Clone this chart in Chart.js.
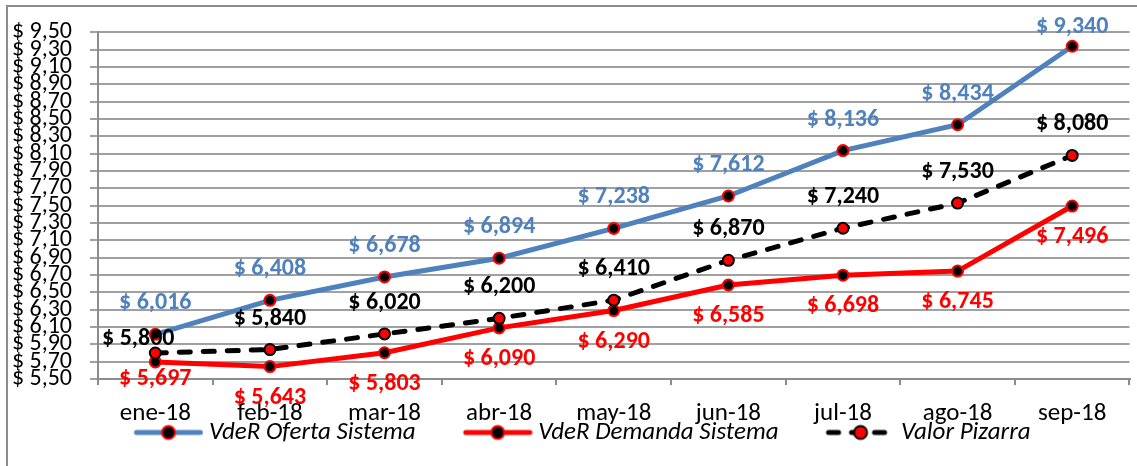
<!DOCTYPE html>
<html>
<head>
<meta charset="utf-8">
<script src="https://cdn.jsdelivr.net/npm/chart.js@4"></script>
<style>
  html, body { margin: 0; padding: 0; background: #fff; }
  #wrap { position: relative; width: 1137px; height: 466px; }
  canvas { display: block; }
</style>
</head>
<body>
<div id="wrap"><canvas id="c" width="1137" height="466"></canvas></div>
<script>
// ---- data ----
const categories = ['ene-18', 'feb-18', 'mar-18', 'abr-18', 'may-18', 'jun-18', 'jul-18', 'ago-18', 'sep-18'];
const ofertaSistema = [6.016, 6.408, 6.678, 6.894, 7.238, 7.612, 8.136, 8.434, 9.340];
const demandaSistema = [5.697, 5.643, 5.803, 6.090, 6.290, 6.585, 6.698, 6.745, 7.496];
const valorPizarra = [5.800, 5.840, 6.020, 6.200, 6.410, 6.870, 7.240, 7.530, 8.080];
const seriesNames = ['VdeR Oferta Sistema', 'VdeR Demanda Sistema', 'Valor Pizarra'];
const yMin = 5.5, yMax = 9.5, yStep = 0.2;

const FONT = 'Carlito, Calibri, "Liberation Sans Narrow", "Open Sans", sans-serif';
const BLUE = '#4F81BD';
const RED = '#FF0000';

function fmtLabel(v) { return '$ ' + v.toFixed(3).replace('.', ','); }
function fmtTick(v) { return '$ ' + v.toFixed(2).replace('.', ','); }

// legend symbol images: (transparent lead-in) + line + marker
const ICON_W = 118, ICON_BOX = 104;
function legendIcon(lineColor, dash, fill, stroke) {
  const c = document.createElement('canvas');
  c.width = ICON_W; c.height = 20;
  const g = c.getContext('2d');
  const x1 = ICON_W - 3, x0 = x1 - 64, xm = (x0 + x1) / 2;
  g.lineWidth = 5;
  g.strokeStyle = lineColor;
  g.lineCap = 'round';
  if (dash) g.setLineDash(dash);
  g.beginPath(); g.moveTo(x0, 10); g.lineTo(x1, 10); g.stroke();
  g.setLineDash([]);
  g.beginPath(); g.arc(xm, 10, 6.5, 0, Math.PI * 2);
  g.fillStyle = fill; g.fill();
  g.lineWidth = 2; g.strokeStyle = stroke; g.stroke();
  return c;
}

const icons = [
  legendIcon(BLUE, null, '#000', RED),
  legendIcon(RED, null, '#000', RED),
  legendIcon('#000', [10, 13], RED, '#000')
];

const labelColors = [BLUE, RED, '#000'];
const labelSide = [-1, 1, -1];
const labelNudges = { '0-8': [0, 12], '1-0': [0, -14], '2-0': [-17, 17] };

const dataLabels = {
  id: 'dataLabels',
  afterDatasetsDraw(chart) {
    const ctx = chart.ctx;
    ctx.save();
    ctx.font = 'bold 24px ' + FONT;
    ctx.textAlign = 'center';
    ctx.textBaseline = 'middle';
    chart.data.datasets.forEach((ds, di) => {
      const meta = chart.getDatasetMeta(di);
      meta.data.forEach((pt, i) => {
        const n = labelNudges[di + '-' + i] || [0, 0];
        ctx.fillStyle = labelColors[di];
        ctx.fillText(fmtLabel(ds.data[i]), pt.x + n[0], pt.y + labelSide[di] * 31 + n[1]);
      });
    });
    ctx.restore();
  }
};

const frame = {
  id: 'frame',
  beforeDraw(chart) {
    const ctx = chart.ctx;
    ctx.save();
    ctx.fillStyle = '#fff';
    ctx.fillRect(0, 0, chart.width, chart.height);
    ctx.strokeStyle = '#8c8c8c';
    ctx.lineWidth = 2;
    ctx.beginPath();
    ctx.moveTo(7, chart.height + 5);
    ctx.lineTo(7, 6);
    ctx.lineTo(chart.width + 5, 6);
    ctx.stroke();
    ctx.restore();
  }
};

// legend sits tighter under the category labels than the layout allows
const legendLift = {
  id: 'legendLift',
  afterLayout(chart) {
    const lg = chart.legend;
    if (lg) { lg.top -= 15; lg.bottom -= 15; lg.left -= 6; lg.right -= 6; }
  }
};

new Chart(document.getElementById('c'), {
  type: 'line',
  data: {
    labels: categories,
    datasets: [
      { label: seriesNames[0], data: ofertaSistema, borderColor: BLUE, borderWidth: 5,
        pointRadius: 5.5, pointBackgroundColor: '#000', pointBorderColor: RED, pointBorderWidth: 2,
        tension: 0, order: 3, fill: false },
      { label: seriesNames[1], data: demandaSistema, borderColor: RED, borderWidth: 5,
        pointRadius: 5.5, pointBackgroundColor: '#000', pointBorderColor: RED, pointBorderWidth: 2,
        tension: 0, order: 2, fill: false },
      { label: seriesNames[2], data: valorPizarra, borderColor: '#000', borderWidth: 5,
        borderDash: [11, 13], borderCapStyle: 'round',
        pointRadius: 5.5, pointBackgroundColor: RED, pointBorderColor: '#000', pointBorderWidth: 2,
        tension: 0, order: 1, fill: false }
    ]
  },
  options: {
    responsive: false,
    animation: false,
    events: [],
    layout: { padding: { left: 0, right: 2, top: 30, bottom: -4 } },
    scales: {
      x: {
        offset: true,
        grid: { display: true, drawOnChartArea: false, drawTicks: true, tickLength: 6, offset: true,
                color: '#8c8c8c', lineWidth: 2 },
        border: { display: true, color: '#8c8c8c', width: 2 },
        ticks: { color: '#000', font: { family: FONT, size: 25 }, padding: 14, maxRotation: 0, autoSkip: false },
        afterFit(scale) { scale.height = 50; }
      },
      y: {
        min: yMin, max: yMax,
        grid: { color: '#a0a0a0', lineWidth: 2, tickLength: 8, drawTicks: true },
        border: { display: true, color: '#8c8c8c', width: 2 },
        ticks: { stepSize: yStep, autoSkip: false, color: '#000', padding: 18,
                 font: { family: FONT, size: 24 }, callback: (v) => fmtTick(v) },
        afterFit(scale) { scale.width = 98; }
      }
    },
    plugins: {
      legend: {
        position: 'bottom',
        labels: {
          usePointStyle: true,
          pointStyleWidth: ICON_BOX,
          boxHeight: 20,
          padding: 6,
          color: '#000',
          font: { family: FONT, size: 25, style: 'italic' },
          sort: (a, b) => a.datasetIndex - b.datasetIndex,
          generateLabels(chart) {
            return chart.data.datasets.map((ds, i) => ({
              text: ds.label, pointStyle: icons[i], datasetIndex: i,
              fillStyle: 'transparent', strokeStyle: 'transparent', lineWidth: 0, hidden: false
            }));
          }
        }
      },
      tooltip: { enabled: false }
    }
  },
  plugins: [frame, legendLift, dataLabels]
});
</script>
</body>
</html>
